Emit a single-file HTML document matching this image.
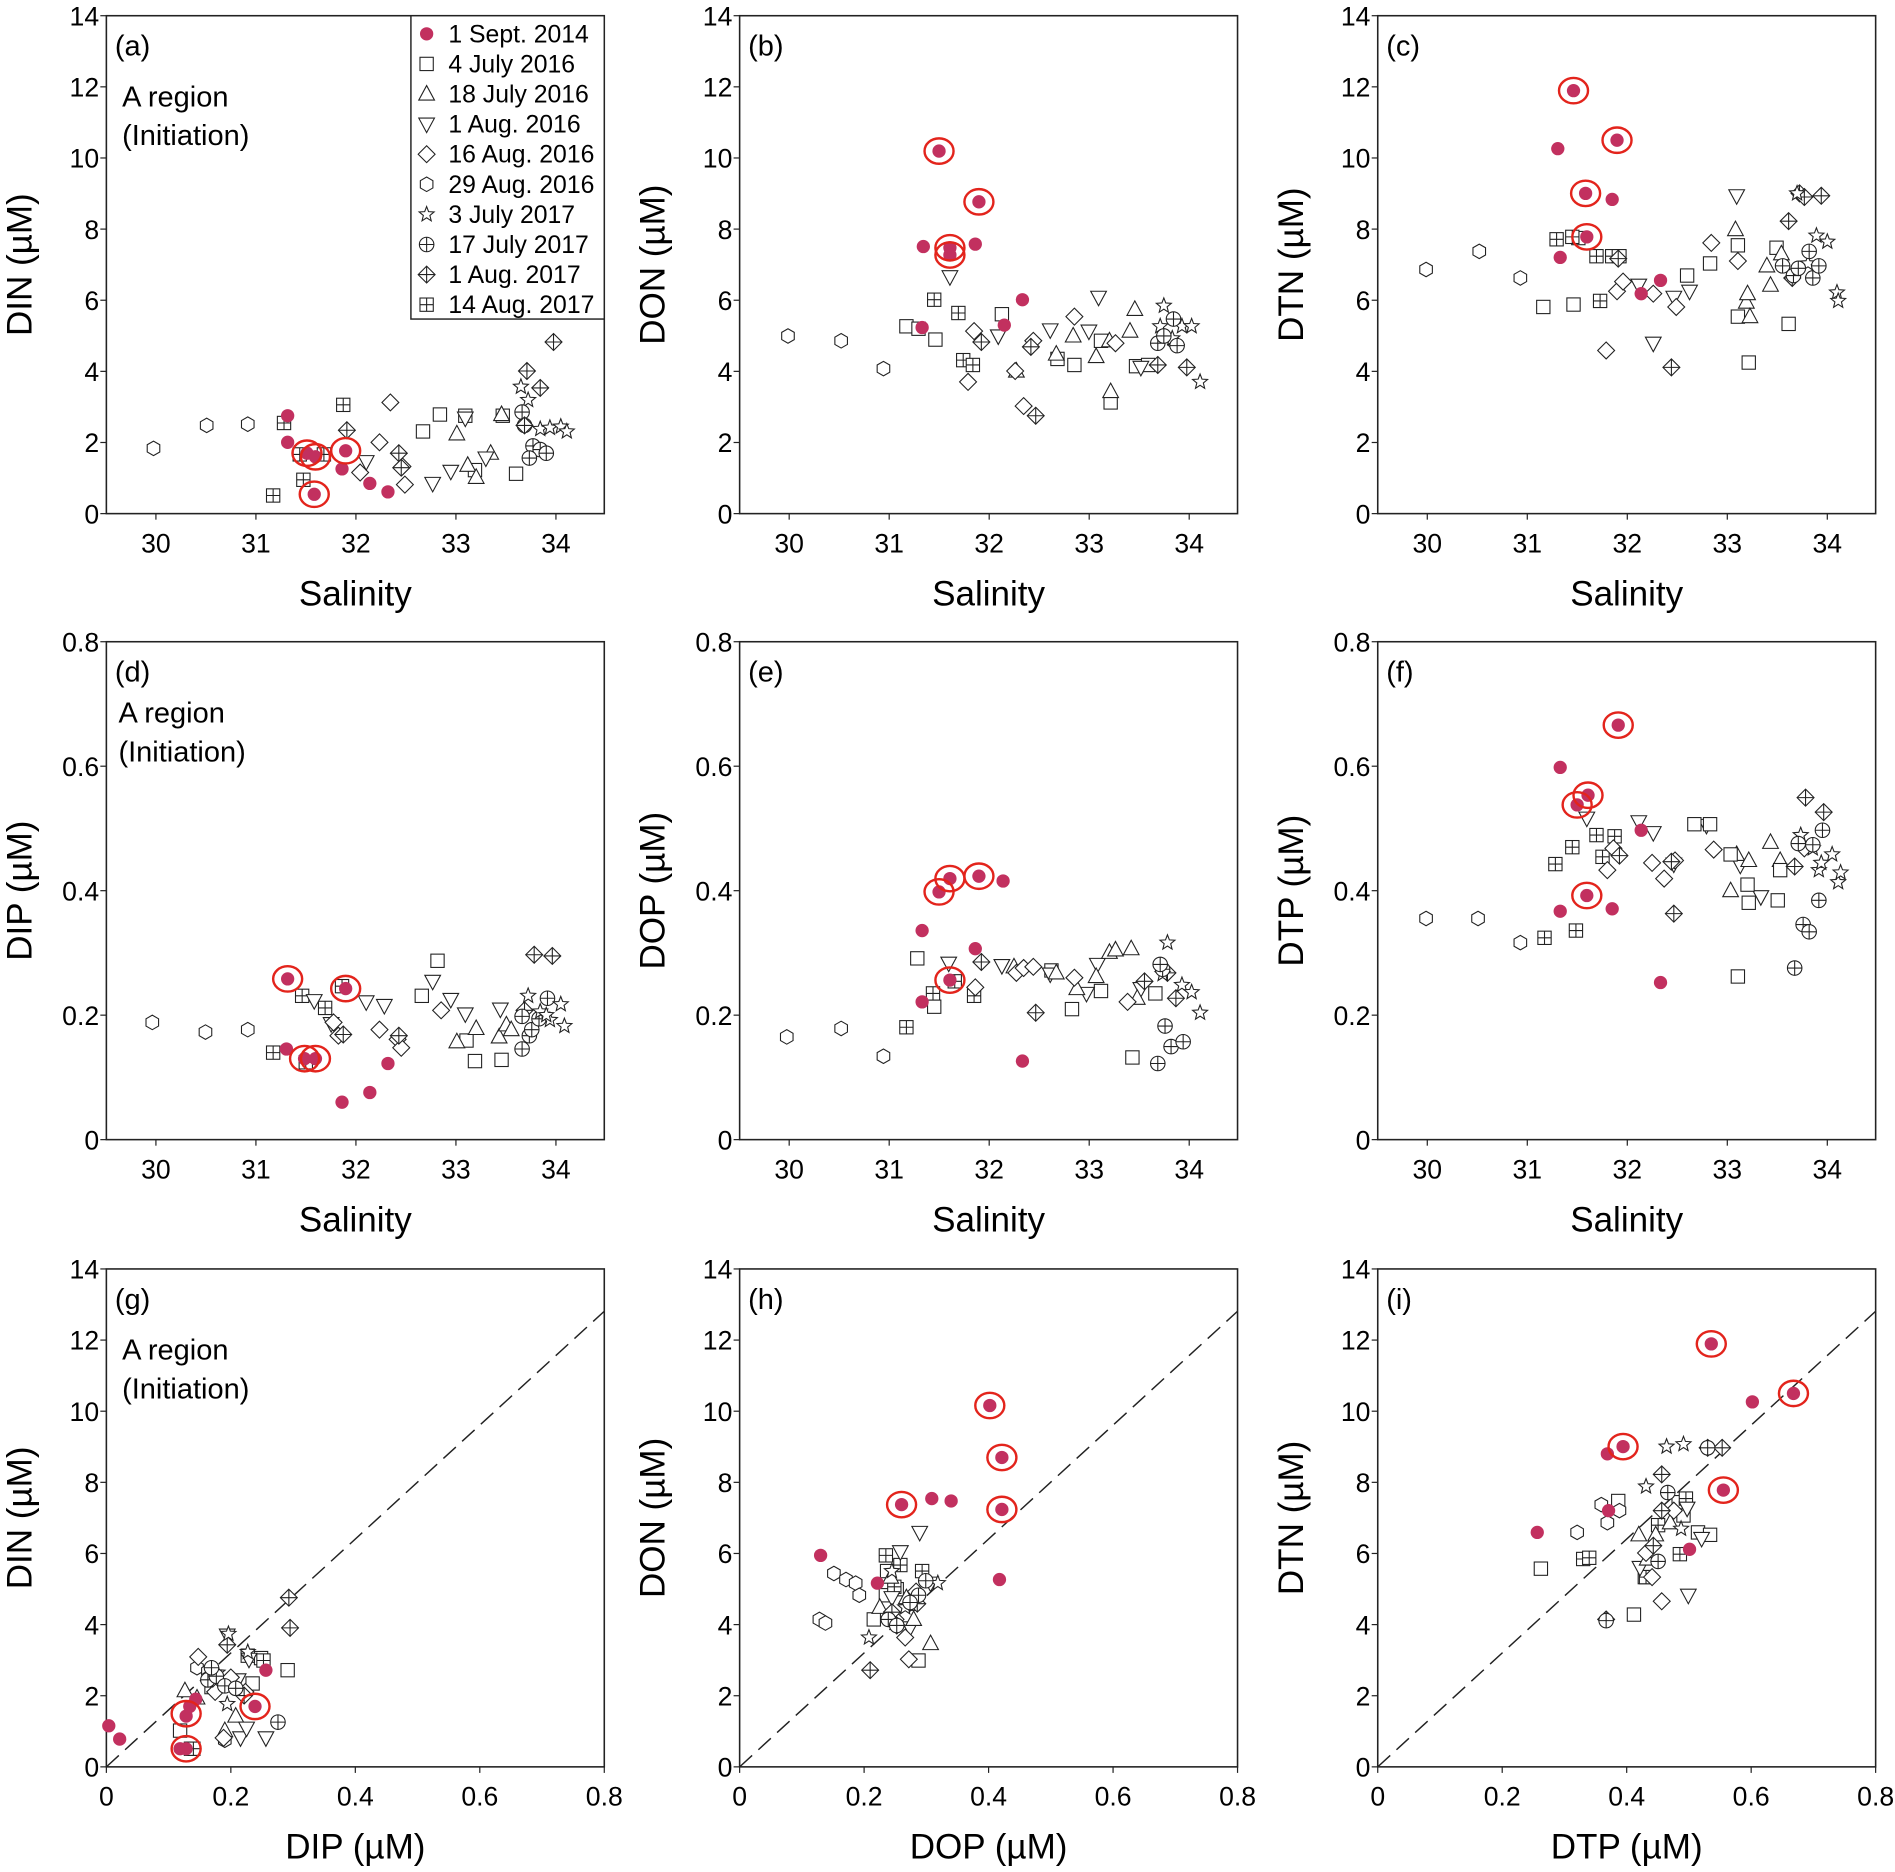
<!DOCTYPE html>
<html><head><meta charset="utf-8">
<style>html,body{margin:0;padding:0;background:#fff}svg{display:block}</style>
</head><body>
<svg id="s" xmlns="http://www.w3.org/2000/svg" width="1895" height="1872" viewBox="0 0 1568 1549" font-family="Liberation Sans, Arial, sans-serif"></svg>
<script>
const S=document.getElementById('s');let h='';
const PX=[88,612,1140],PY=[13,531,1050],W=412,H=412;
function txt(x,y,t,sz,anc,extra){h+=`<text x="${x}" y="${y}" font-size="${sz}" text-anchor="${anc||'start'}" ${extra||''}>${t}</text>`;}
function mk(t,x,y){const r=5.5,st='fill="white" stroke="#222" stroke-width="0.9"';
 switch(t){
 case 'c':h+=`<circle cx="${x}" cy="${y}" r="5.5" fill="#c2305f"/>`;break;
 case 'r':h+=`<ellipse cx="${x}" cy="${y}" rx="12" ry="10.5" fill="none" stroke="#e3241c" stroke-width="2"/>`;break;
 case 's':h+=`<rect x="${x-r}" y="${y-r}" width="${2*r}" height="${2*r}" ${st}/>`;break;
 case 'sp':h+=`<rect x="${x-r}" y="${y-r}" width="${2*r}" height="${2*r}" ${st}/><path d="M${x-r} ${y}H${x+r}M${x} ${y-r}V${y+r}" stroke="#222" stroke-width="0.9"/>`;break;
 case 't':h+=`<path d="M${x} ${y-7}L${x+6.5} ${y+5}L${x-6.5} ${y+5}Z" ${st}/>`;break;
 case 'v':h+=`<path d="M${x} ${y+7}L${x+6.5} ${y-5}L${x-6.5} ${y-5}Z" ${st}/>`;break;
 case 'd':h+=`<path d="M${x} ${y-7}L${x+7} ${y}L${x} ${y+7}L${x-7} ${y}Z" ${st}/>`;break;
 case 'dp':h+=`<path d="M${x} ${y-7}L${x+7} ${y}L${x} ${y+7}L${x-7} ${y}Z" ${st}/><path d="M${x-7} ${y}H${x+7}M${x} ${y-7}V${y+7}" stroke="#222" stroke-width="0.9"/>`;break;
 case 'h':{let p='';for(let i=0;i<6;i++){const a=Math.PI/3*i+Math.PI/6;p+=(i?'L':'M')+(x+6*Math.cos(a)).toFixed(1)+' '+(y+6*Math.sin(a)).toFixed(1);}h+=`<path d="${p}Z" ${st}/>`;break;}
 case 'st':{let p='';for(let i=0;i<10;i++){const a=-Math.PI/2+Math.PI/5*i,rr=i%2?2.8:6.5;p+=(i?'L':'M')+(x+rr*Math.cos(a)).toFixed(1)+' '+(y+rr*Math.sin(a)).toFixed(1);}h+=`<path d="${p}Z" ${st}/>`;break;}
 case 'cp':h+=`<circle cx="${x}" cy="${y}" r="6" ${st}/><path d="M${x-6} ${y}H${x+6}M${x} ${y-6}V${y+6}" stroke="#222" stroke-width="0.9"/>`;break;
 }}
function pts(t,arr){arr.forEach(p=>mk(t,p[0],p[1]));}
function axes(col,row,xl,yl,xt,yt,ytitle,xtitle,lab){
 const x0=PX[col],y0=PY[row];
 h+=`<rect x="${x0}" y="${y0}" width="${W}" height="${H}" fill="none" stroke="#222" stroke-width="1.3"/>`;
 yt.forEach(([v,p])=>{h+=`<path d="M${x0} ${p}H${x0-5}" stroke="#222"/>`;txt(x0-6,p+8,v,22,'end');});
 xt.forEach(([v,p])=>{h+=`<path d="M${p} ${y0+H}V${y0+H+5}" stroke="#222"/>`;txt(p,y0+H+32,v,22,'middle');});
 txt(x0+W/2,y0+H+76,xtitle,29,'middle');
 txt(0,0,ytitle,29,'middle',`transform="translate(${x0-62},${y0+H/2}) rotate(-90)"`);
 txt(x0+7,y0+33,lab,24);
}
const salT=c=>[30,31,32,33,34].map(v=>[v,PX[c]+41+(v-30)*82.75]);
const y14=r=>[0,2,4,6,8,10,12,14].map(v=>[v,PY[r]+H-v*H/14]);
const y08=r=>['0','0.2','0.4','0.6','0.8'].map((v,i)=>[v,PY[r]+H-i*H/4]);
const dT=c=>['0','0.2','0.4','0.6','0.8'].map((v,i)=>[v,PX[c]+i*W/4]);
const ab=['(a)','(b)','(c)','(d)','(e)','(f)','(g)','(h)','(i)'];
const yt1=['DIN (µM)','DON (µM)','DTN (µM)'],yt2=['DIP (µM)','DOP (µM)','DTP (µM)'];
for(let c=0;c<3;c++){
 axes(c,0,0,0,salT(c),y14(0),yt1[c],'Salinity',ab[c]);
 axes(c,1,0,0,salT(c),y08(1),yt2[c],'Salinity',ab[3+c]);
 axes(c,2,0,0,dT(c),y14(2),yt1[c],yt2[c],ab[6+c]);
 h+=`<path d="M${PX[c]} 1462L${PX[c]+W} 1085" stroke="#222" stroke-width="1.2" stroke-dasharray="14,7" fill="none"/>`;
}
[[0,0],[0,1],[0,2]].forEach(([c,r])=>{const y=PY[r]+(r==1?67:75);txt(PX[c]+(r==1?10:13),y,'A region',24);txt(PX[c]+(r==1?10:13),y+32,'(Initiation)',24);});
// legend
h+=`<rect x="340" y="13" width="160" height="251" fill="white" stroke="#222" stroke-width="1.2"/>`;
[['c','1 Sept. 2014'],['s','4 July 2016'],['t','18 July 2016'],['v','1 Aug. 2016'],['d','16 Aug. 2016'],['h','29 Aug. 2016'],['st','3 July 2017'],['cp','17 July 2017'],['dp','1 Aug. 2017'],['sp','14 Aug. 2017']].forEach(([t,l],i)=>{const y=28+i*24.9;mk(t,353,y);txt(371,y+7,l,20.5);});
// panel a
pts('h',[[127,371],[171,352],[205,351]]);
pts('sp',[[226,410],[235,350],[248,376],[251,397],[268,376],[284,335]]);
pts('d',[[323,333],[314,366],[335,401],[298,391],[333,386]]);
pts('s',[[364,343],[350,357],[385,344],[416,344],[427,392],[393,389]]);
pts('t',[[378,359],[387,385],[394,395],[406,375],[415,343]]);
pts('v',[[303,382],[358,400],[373,390],[385,346],[402,379]]);
pts('st',[[431,320],[437,331],[447,355],[455,354],[464,353],[469,357]]);
pts('cp',[[432,341],[434,352],[441,369],[447,372],[452,375],[438,379]]);
pts('dp',[[287,356],[330,375],[332,387],[436,307],[447,321],[458,283],[434,352]]);
pts('c',[[238,344],[238,366],[254,375],[261,378],[286,373],[260,409],[283,388],[306,400],[321,407]]);
pts('r',[[254,375],[261,378],[286,373],[260,409]]);
// panel b
pts('h',[[652,278],[696,282],[731,305]]);
pts('s',[[750,270],[760,272],[774,281],[829,260],[875,297],[889,302],[911,282],[919,333],[940,303],[950,302]]);
pts('sp',[[773,248],[793,259],[797,298],[805,302]]);
pts('v',[[786,229],[826,278],[869,273],[901,274],[909,246],[944,304]]);
pts('t',[[841,307],[874,293],[888,278],[907,295],[918,282],[919,324],[935,274],[939,256]]);
pts('d',[[801,316],[806,274],[840,307],[847,336],[855,282],[889,262],[923,284]]);
pts('dp',[[812,283],[853,287],[857,344],[958,302],[982,304],[973,285]]);
pts('st',[[963,253],[970,280],[978,270],[986,270],[993,316],[960,270]]);
pts('cp',[[958,284],[963,278],[971,264],[974,286]]);
pts('c',[[777,125],[810,167],[764,204],[786,205],[786,211],[807,202],[763,271],[831,269],[846,248]]);
pts('r',[[777,125],[810,167],[786,205],[786,211]]);
// panel c
pts('h',[[1180,223],[1224,208],[1258,230]]);
pts('s',[[1277,254],[1302,252],[1306,197],[1340,212],[1396,228],[1415,218],[1438,203],[1447,300],[1438,262],[1480,268],[1470,205]]);
pts('sp',[[1288,198],[1301,196],[1321,212],[1324,249],[1334,212]]);
pts('v',[[1356,236],[1368,284],[1385,246],[1398,241],[1437,162]]);
pts('t',[[1436,190],[1445,250],[1448,262],[1462,220],[1465,236],[1474,210],[1446,243]]);
pts('d',[[1329,290],[1338,241],[1343,233],[1368,243],[1387,254],[1416,201],[1438,216]]);
pts('dp',[[1339,214],[1383,304],[1480,183],[1489,160],[1507,162],[1483,230],[1493,163]]);
pts('st',[[1487,160],[1503,195],[1512,200],[1520,242],[1521,249],[1496,218]]);
pts('cp',[[1475,220],[1484,228],[1488,222],[1497,208],[1500,230],[1505,220]]);
pts('c',[[1302,75],[1338,116],[1312,160],[1313,196],[1289,123],[1334,165],[1291,213],[1358,243],[1374,232]]);
pts('r',[[1302,75],[1338,116],[1312,160],[1313,196]]);
// panel d
pts('h',[[126,846],[170,854],[205,852]]);
pts('sp',[[226,871],[250,824],[253,879],[269,834],[283,816]]);
pts('v',[[260,828],[274,847],[303,829],[318,832],[358,812],[373,827],[385,839],[414,835]]);
pts('d',[[276,846],[280,857],[314,852],[329,860],[332,867],[365,836]]);
pts('dp',[[284,856],[330,857],[442,790],[457,791],[434,836]]);
pts('s',[[349,824],[362,795],[386,861],[393,878],[415,877]]);
pts('t',[[378,862],[394,851],[413,858],[419,848],[423,852]]);
pts('cp',[[432,841],[438,857],[440,852],[446,843],[453,826],[432,868]]);
pts('st',[[437,824],[447,837],[455,844],[464,831],[467,849],[452,840]]);
pts('c',[[238,810],[286,818],[237,868],[252,876],[261,876],[283,912],[306,904],[321,880]]);
pts('r',[[238,810],[286,818],[252,876],[261,876]]);
// panel e
pts('h',[[651,858],[696,851],[731,874]]);
pts('s',[[759,793],[773,833],[870,803],[887,835],[911,820],[937,875],[956,822]]);
pts('sp',[[750,850],[772,822],[790,812],[806,824]]);
pts('v',[[785,797],[829,799],[869,806],[899,822],[908,798],[944,818]]);
pts('t',[[839,800],[874,805],[891,818],[907,808],[918,788],[923,786],[936,785],[941,826]]);
pts('d',[[807,817],[841,805],[847,801],[855,800],[889,809],[933,829]]);
pts('dp',[[812,796],[857,838],[947,812],[973,826],[966,805]]);
pts('st',[[966,780],[978,815],[986,821],[993,838],[962,806]]);
pts('cp',[[958,880],[962,802],[964,849],[969,866],[979,862],[960,798]]);
pts('c',[[777,738],[786,727],[810,725],[786,811],[830,729],[763,770],[807,785],[763,829],[846,878]]);
pts('r',[[777,738],[786,727],[810,725],[786,811]]);
// panel f
pts('h',[[1180,760],[1223,760],[1258,780]]);
pts('sp',[[1287,715],[1301,701],[1304,770],[1321,691],[1326,709],[1336,692],[1278,776]]);
pts('v',[[1313,677],[1356,680],[1368,689],[1385,715],[1412,683],[1440,716],[1457,742]]);
pts('t',[[1437,707],[1465,697],[1473,712],[1447,712],[1432,737]]);
pts('s',[[1402,682],[1415,682],[1432,707],[1446,732],[1447,747],[1473,720],[1471,745],[1438,808]]);
pts('d',[[1330,720],[1335,702],[1367,714],[1377,727],[1386,712],[1418,703],[1493,702]]);
pts('dp',[[1340,708],[1385,756],[1494,660],[1509,672],[1485,717],[1383,713]]);
pts('st',[[1490,691],[1500,702],[1505,720],[1516,707],[1521,730],[1523,722],[1507,714]]);
pts('cp',[[1485,801],[1492,765],[1497,771],[1500,699],[1505,745],[1508,687],[1488,698]]);
pts('c',[[1291,635],[1339,600],[1314,658],[1305,666],[1313,741],[1291,754],[1334,752],[1358,687],[1374,813]]);
pts('r',[[1339,600],[1314,658],[1305,666],[1313,741]]);
// panel g
pts('h',[[163,1380],[172,1383],[173,1388],[186,1440],[230,1425]]);
pts('s',[[149,1432],[158,1447],[238,1382],[209,1393],[216,1372]]);
pts('sp',[[160,1447],[218,1374],[175,1396],[205,1370]]);
pts('t',[[153,1399],[177,1388],[186,1432],[163,1405],[195,1420]]);
pts('v',[[188,1353],[199,1438],[206,1373],[220,1438],[204,1430],[197,1390]]);
pts('d',[[164,1371],[178,1400],[185,1438],[191,1388],[203,1400]]);
pts('dp',[[188,1361],[240,1347],[239,1322],[176,1389],[202,1403]]);
pts('st',[[189,1352],[205,1367],[180,1384],[188,1410]]);
pts('cp',[[172,1390],[179,1387],[186,1395],[195,1397],[230,1425],[175,1380]]);
pts('c',[[90,1428],[99,1439],[154,1420],[149,1447],[154,1447],[211,1412],[220,1382],[157,1412],[162,1406]]);
pts('r',[[154,1418],[154,1447],[211,1412]]);
// panel h
pts('h',[[690,1302],[678,1340],[683,1343],[700,1307],[708,1310],[711,1320]]);
pts('s',[[723,1340],[733,1320],[734,1300],[760,1374],[742,1315]]);
pts('sp',[[733,1287],[740,1313],[755,1327],[745,1295],[763,1300]]);
pts('v',[[745,1284],[761,1268],[753,1347],[738,1322],[770,1310]]);
pts('t',[[737,1305],[770,1360],[750,1322],[756,1340],[728,1330]]);
pts('d',[[752,1373],[749,1355],[741,1340],[758,1317]]);
pts('dp',[[720,1382],[738,1334],[759,1327],[742,1345]]);
pts('st',[[719,1355],[738,1300],[776,1310],[749,1330]]);
pts('cp',[[735,1340],[742,1345],[760,1320],[766,1308],[753,1326]]);
pts('c',[[679,1287],[726,1310],[746,1245],[771,1240],[787,1242],[819,1163],[829,1206],[829,1249],[827,1307]]);
pts('r',[[746,1245],[819,1163],[829,1206],[829,1249]]);
// panel i
pts('s',[[1275,1298],[1339,1242],[1352,1336],[1361,1305],[1393,1254],[1405,1268],[1415,1270],[1389,1243]]);
pts('sp',[[1310,1290],[1315,1289],[1362,1305],[1372,1262],[1390,1286],[1395,1240]]);
pts('h',[[1325,1245],[1340,1250],[1305,1268],[1330,1260]]);
pts('v',[[1397,1320],[1408,1273],[1396,1248],[1357,1297]]);
pts('t',[[1363,1290],[1370,1270],[1356,1270],[1382,1260]]);
pts('d',[[1375,1325],[1367,1305],[1385,1250],[1362,1285]]);
pts('dp',[[1329,1340],[1375,1220],[1375,1250],[1413,1198],[1425,1198],[1368,1279]]);
pts('st',[[1379,1197],[1393,1195],[1362,1230],[1391,1265]]);
pts('cp',[[1329,1341],[1413,1198],[1380,1235],[1372,1292]]);
pts('c',[[1272,1268],[1331,1250],[1330,1203],[1343,1197],[1416,1112],[1450,1160],[1484,1153],[1426,1233],[1398,1282]]);
pts('r',[[1343,1197],[1416,1112],[1484,1153],[1426,1233]]);
S.innerHTML=h;
</script>
</body></html>
